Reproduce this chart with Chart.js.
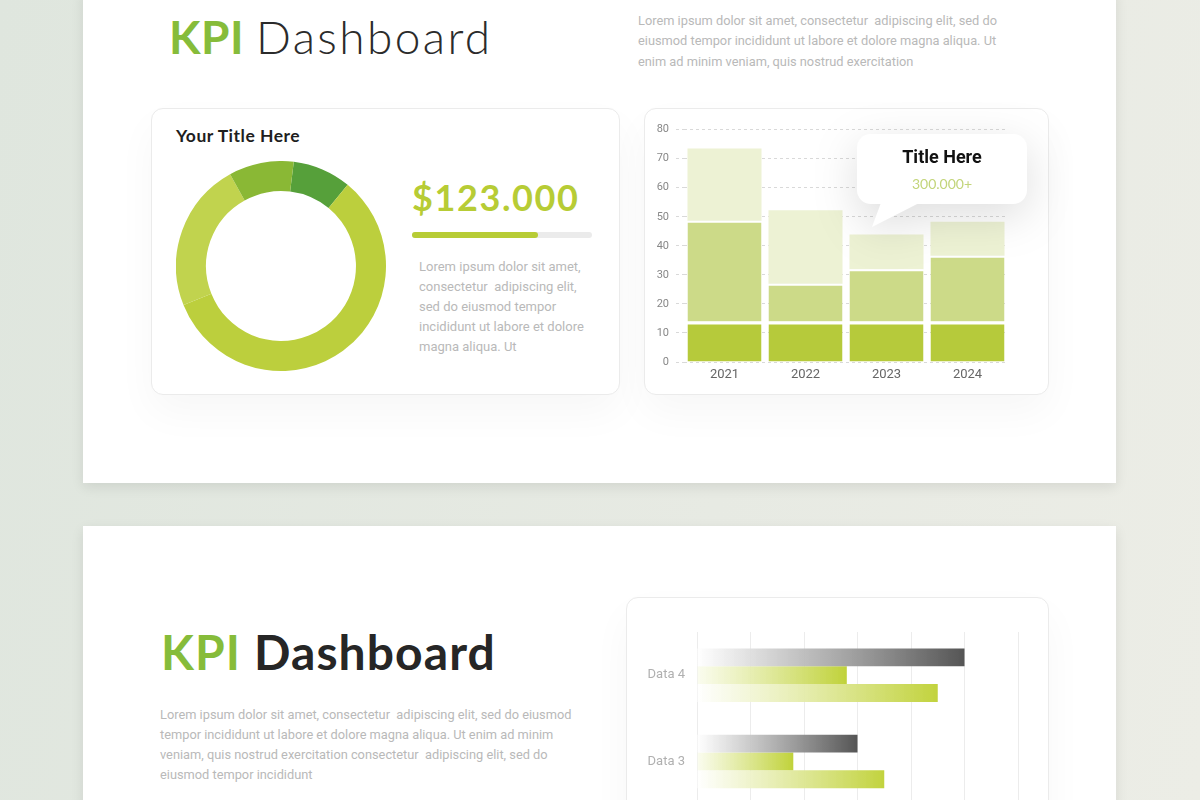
<!DOCTYPE html>
<html><head><meta charset="utf-8">
<script src="https://cdn.jsdelivr.net/npm/chart.js@4.4.1/dist/chart.umd.min.js"></script>
<style>
html,body{margin:0;padding:0;width:1200px;height:800px;overflow:hidden;}
body{background:linear-gradient(100deg,#dfe6de 0%,#e7eae3 60%,#ecede6 100%);font-family:Roboto,'Noto Sans',sans-serif;position:relative;}
.abs{position:absolute;}
.panel{background:#fff;box-shadow:0 4px 12px rgba(0,0,0,0.09);}
.card{background:#fff;border:1px solid #ebebeb;border-radius:12px;box-sizing:border-box;box-shadow:0 18px 40px rgba(0,0,0,0.035);}
.para{color:#b9b9b9;font-size:13px;line-height:20.3px;white-space:pre;}
</style></head>
<body>
<div class="abs panel" style="left:83px;top:-10px;width:1033px;height:493px;"></div>
<div class="abs panel" style="left:83px;top:526px;width:1033px;height:300px;"></div>

<!-- top section -->
<div class="abs" style="left:169px;top:14px;font-family:Lato;font-size:46px;line-height:46px;white-space:pre;"><span style="color:#86bc3a;font-weight:700;letter-spacing:0.5px">KPI</span> <span style="color:#2b2b2b;font-weight:300;letter-spacing:2.4px">Dashboard</span></div>
<div class="abs para" style="left:638px;top:11px;font-size:12.8px;">Lorem ipsum dolor sit amet, consectetur  adipiscing elit, sed do
eiusmod tempor incididunt ut labore et dolore magna aliqua. Ut
enim ad minim veniam, quis nostrud exercitation</div>

<div class="abs card" style="left:151px;top:108px;width:469px;height:287px;"></div>
<div class="abs" style="left:176px;top:126px;font-family:Lato;font-weight:700;font-size:17.5px;line-height:20px;letter-spacing:0.5px;color:#1e1e1e;">Your Title Here</div>
<div class="abs" style="left:176px;top:161px;width:210px;height:210px;"><canvas id="donut"></canvas></div>
<div class="abs" style="left:412px;top:177px;font-family:Lato;font-weight:700;font-size:36px;line-height:40px;letter-spacing:1.6px;color:#b7cc35;">$123.000</div>
<div class="abs" style="left:412px;top:232px;width:180px;height:6px;border-radius:3px;background:#ebebeb;"></div>
<div class="abs" style="left:412px;top:232px;width:126px;height:6px;border-radius:3px;background:#b7cc35;"></div>
<div class="abs para" style="left:419px;top:257px;line-height:20px;">Lorem ipsum dolor sit amet,
consectetur  adipiscing elit,
sed do eiusmod tempor
incididunt ut labore et dolore
magna aliqua. Ut</div>

<div class="abs card" style="left:644px;top:108px;width:405px;height:287px;"></div>
<div class="abs" style="left:640px;top:116px;width:378px;height:272px;"><canvas id="bars"></canvas></div>

<div class="abs" style="left:0;top:0;width:1200px;height:400px;filter:drop-shadow(0 12px 22px rgba(0,0,0,0.13));pointer-events:none;">
  <div class="abs" style="left:857px;top:134px;width:170px;height:70px;background:#fff;border-radius:14px;"></div>
  <div class="abs" style="left:868px;top:200px;width:60px;height:30px;background:#fff;clip-path:polygon(4px 27px,14px 0px,57px 0px);"></div>
</div>
<div class="abs" style="left:857px;top:146px;width:170px;text-align:center;font-family:Roboto;font-weight:700;font-size:18px;line-height:22px;color:#111;">Title Here</div>
<div class="abs" style="left:857px;top:175px;width:170px;text-align:center;font-family:Lato;font-size:14px;line-height:18px;color:#c3d57a;">300.000+</div>

<!-- bottom section -->
<div class="abs" style="left:161px;top:626px;font-family:Lato;font-size:48px;line-height:52px;white-space:pre;font-weight:700;letter-spacing:1.1px;"><span style="color:#86bc3a">KPI</span> <span style="color:#262626">Dashboard</span></div>
<div class="abs para" style="left:160px;top:705px;line-height:20px;font-size:12.8px;">Lorem ipsum dolor sit amet, consectetur  adipiscing elit, sed do eiusmod
tempor incididunt ut labore et dolore magna aliqua. Ut enim ad minim
veniam, quis nostrud exercitation consectetur  adipiscing elit, sed do
eiusmod tempor incididunt</div>

<div class="abs card" style="left:626px;top:597px;width:423px;height:260px;"></div>
<div class="abs" style="left:626px;top:597px;width:423px;height:400px;"><canvas id="hbars"></canvas></div>

<script>
// ---- Donut data ----
const donutLabels = ['A', 'B', 'C', 'D'];
const donutValues = [9, 58, 23, 10];
const donutColors = ['#56a03a', '#bccf3d', '#c1d34e', '#8ab835'];

// ---- Stacked bar data ----
const years = ['2021', '2022', '2023', '2024'];
const baseSeg = [13.9, 13.9, 13.9, 13.9];
const midSeg = [34.7, 13.0, 18.0, 22.7];
const topSeg = [24.9, 25.3, 12.0, 11.7];
const yTicks = [0, 10, 20, 30, 40, 50, 60, 70, 80];

// ---- Horizontal bar data ----
const hLabels = ['Data 4', 'Data 3', 'Data 2', 'Data 1'];
const hGray = [50, 30, 42, 36];
const hGreen = [28, 18, 24, 20];
const hLight = [45, 35, 38, 30];

Chart.defaults.font.family = 'Roboto';
Chart.defaults.animation = false;

new Chart(document.getElementById('donut'), {
  type: 'doughnut',
  data: { labels: donutLabels, datasets: [{ data: donutValues, backgroundColor: donutColors, borderWidth: 0, hoverOffset: 0, offset: 0 }] },
  options: {
    responsive: true, maintainAspectRatio: false, rotation: 7, cutout: '71.4%',
    plugins: { legend: { display: false }, tooltip: { enabled: false } },
    layout: { padding: 0 }
  }
});

new Chart(document.getElementById('bars'), {
  type: 'bar',
  data: {
    labels: years,
    datasets: [
      { data: baseSeg, backgroundColor: '#b6ca3b', borderColor: '#ffffff', borderWidth: { top: 3, left: 0, right: 0, bottom: 0 }, borderSkipped: false },
      { data: midSeg, backgroundColor: '#ccda88', borderColor: '#ffffff', borderWidth: { top: 2, left: 0, right: 0, bottom: 0 }, borderSkipped: false },
      { data: topSeg, backgroundColor: '#edf2d4', borderWidth: 0 }
    ]
  },
  options: {
    responsive: true, maintainAspectRatio: false,
    layout: { padding: { top: 10, right: 10, left: 0, bottom: 0 } },
    plugins: { legend: { display: false }, tooltip: { enabled: false } },
    datasets: { bar: { barPercentage: 0.914, categoryPercentage: 1 } },
    scales: {
      x: {
        stacked: true,
        grid: { display: false, drawTicks: false },
        border: { display: false },
        ticks: { color: '#666', font: { size: 13 }, padding: 5 },
        afterFit: s => { s.height = 26; }
      },
      y: {
        stacked: true, min: 0, max: 80,
        afterBuildTicks: s => { s.ticks = yTicks.map(v => ({ value: v })); },
        grid: { color: '#d9d9d9', tickLength: 8, tickColor: '#d9d9d9', tickBorderDash: [3, 3] },
        border: { display: false, dash: [3, 3] },
        ticks: { color: '#888', font: { size: 11 }, padding: 7 },
        afterFit: s => { s.width = 44; }
      }
    }
  }
});

function fadeGrad(endColor, startColor) {
  return (ctx) => {
    const chart = ctx.chart;
    if (!chart.chartArea || ctx.raw == null) return endColor;
    const x0 = chart.scales.x.getPixelForValue(0);
    const x1 = chart.scales.x.getPixelForValue(ctx.raw);
    const g = chart.ctx.createLinearGradient(x0, 0, x1, 0);
    g.addColorStop(0, startColor);
    g.addColorStop(1, endColor);
    return g;
  };
}

new Chart(document.getElementById('hbars'), {
  type: 'bar',
  data: {
    labels: hLabels,
    datasets: [
      { data: hGray, backgroundColor: fadeGrad('#555555', 'rgba(255,255,255,0.9)') },
      { data: hGreen, backgroundColor: fadeGrad('#c0d23a', 'rgba(250,252,238,0.9)') },
      { data: hLight, backgroundColor: fadeGrad('#c2d33e', 'rgba(255,255,255,0.9)') }
    ]
  },
  options: {
    indexAxis: 'y',
    responsive: true, maintainAspectRatio: false,
    layout: { padding: { top: 35, right: 31, left: 0, bottom: 17 } },
    plugins: { legend: { display: false }, tooltip: { enabled: false } },
    datasets: { bar: { barPercentage: 1, categoryPercentage: 0.62, borderWidth: 0 } },
    scales: {
      x: {
        min: 0, max: 60, ticks: { display: false, stepSize: 10 },
        grid: { color: '#ececec', drawTicks: false },
        border: { display: false },
        afterFit: s => { s.height = 0; }
      },
      y: {
        grid: { display: false, drawTicks: false },
        border: { display: false },
        ticks: { color: '#b0b0b0', font: { size: 13 }, padding: 12 },
        afterFit: s => { s.width = 71; }
      }
    }
  }
});
</script>
</body></html>
